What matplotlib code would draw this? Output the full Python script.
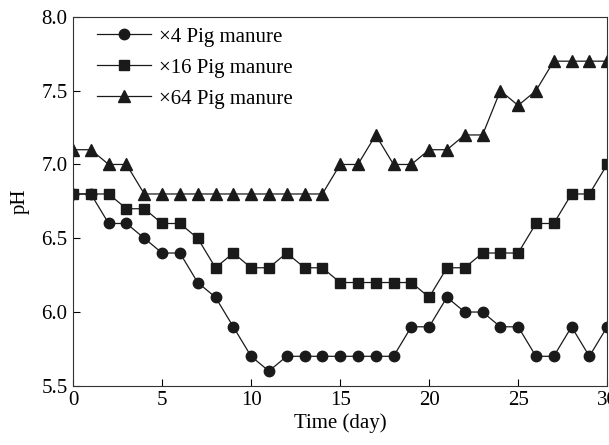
import matplotlib
matplotlib.use("Agg")
import matplotlib.pyplot as plt

days = list(range(31))
ph_x4 = [6.8, 6.8, 6.6, 6.6, 6.5, 6.4, 6.4, 6.2, 6.1, 5.9, 5.7, 5.6, 5.7, 5.7, 5.7, 5.7,
         5.7, 5.7, 5.7, 5.9, 5.9, 6.1, 6.0, 6.0, 5.9, 5.9, 5.7, 5.7, 5.9, 5.7, 5.9]
ph_x16 = [6.8, 6.8, 6.8, 6.7, 6.7, 6.6, 6.6, 6.5, 6.3, 6.4, 6.3, 6.3, 6.4, 6.3, 6.3, 6.2,
          6.2, 6.2, 6.2, 6.2, 6.1, 6.3, 6.3, 6.4, 6.4, 6.4, 6.6, 6.6, 6.8, 6.8, 7.0]
ph_x64 = [7.1, 7.1, 7.0, 7.0, 6.8, 6.8, 6.8, 6.8, 6.8, 6.8, 6.8, 6.8, 6.8, 6.8, 6.8, 7.0,
          7.0, 7.2, 7.0, 7.0, 7.1, 7.1, 7.2, 7.2, 7.5, 7.4, 7.5, 7.7, 7.7, 7.7, 7.7]
labels = ["×4 Pig manure", "×16 Pig manure", "×64 Pig manure"]
xticks = [0, 5, 10, 15, 20, 25, 30]
yticks = [5.5, 6.0, 6.5, 7.0, 7.5, 8.0]

plt.rcParams['font.family'] = ['Liberation Serif', 'DejaVu Serif']
plt.rcParams['font.size'] = 15

fig = plt.figure(figsize=(6.09, 4.45), dpi=100)
ax = fig.add_axes([0.12, 0.133, 0.877, 0.829])

c = '#1a1a1a'
ax.plot(days, ph_x4, '-o', color=c, lw=0.9, ms=7.5, label=labels[0])
ax.plot(days, ph_x16, '-s', color=c, lw=0.9, ms=7, label=labels[1])
ax.plot(days, ph_x64, '-^', color=c, lw=0.9, ms=8.5, label=labels[2])

ax.set_xlim(0, 30)
ax.set_ylim(5.5, 8.0)
ax.set_xticks(xticks)
ax.set_yticks(yticks)
ax.set_yticklabels([f"{v:.1f}" for v in yticks])
ax.tick_params(direction='in', length=5, width=0.8, pad=4)
ax.set_xlabel('Time (day)', labelpad=2)
ax.set_ylabel('pH', labelpad=8)
for s in ax.spines.values():
    s.set_linewidth(0.8)
    s.set_color('#333333')

ax.legend(loc='upper left', frameon=False, handlelength=2.6, handletextpad=0.4,
          labelspacing=0.55, borderaxespad=0.3, bbox_to_anchor=(0.017, 1.012))

fig.savefig('out.png', dpi=100)
